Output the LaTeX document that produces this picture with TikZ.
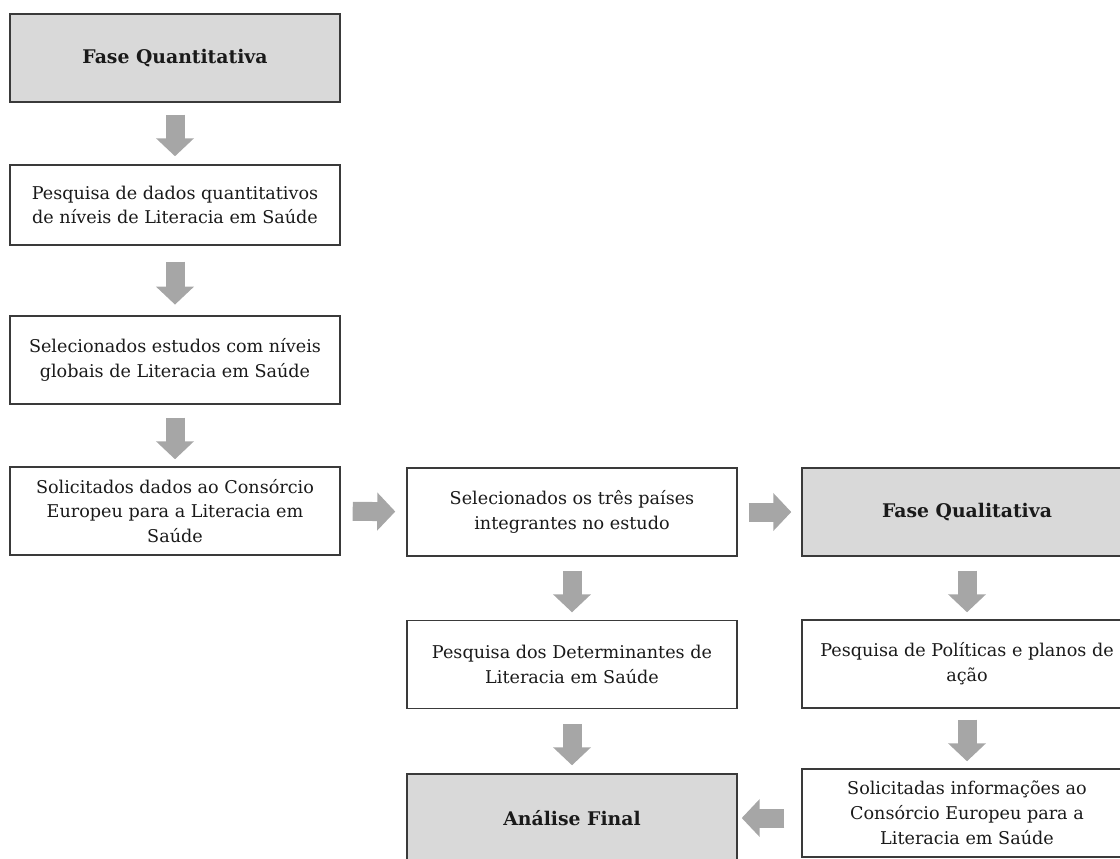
\documentclass[tikz,border=0pt]{standalone}
\usepackage{fontspec}
\setmainfont{DejaVu Serif}
\usetikzlibrary{arrows.meta}
\definecolor{boxline}{HTML}{3A3A3A}
\definecolor{titlefill}{HTML}{D9D9D9}
\definecolor{arrowfill}{HTML}{A6A6A6}
\definecolor{txt}{HTML}{1A1A1A}
\tikzset{
  stepbox/.style={draw=boxline, line width=1.1pt, fill=white, text=txt,
    minimum width=247.5pt, minimum height=66pt, inner sep=0pt,
    align=center, font=\fontsize{13.2}{18.6}\selectfont},
  titlebox/.style={stepbox, fill=titlefill,
    font=\fontsize{14.1}{18.6}\selectfont\bfseries},
  blk/.style={draw=arrowfill, line width=14.25pt,
    -{Triangle[width=27.75pt,length=13.5pt,fill=arrowfill]}},
}
\begin{document}
\begin{tikzpicture}[x=0.75pt,y=-0.75pt]
\useasboundingbox (0,0) rectangle (1120,859);
\clip (0,0) rectangle (1120,859);
\node[titlebox] (b1) at (175,58) {Fase Quantitativa};
\node[stepbox, minimum height=60pt] (b2) at (175,205) {Pesquisa de dados quantitativos\\de níveis de Literacia em Saúde};
\node[stepbox] (b3) at (175,360) {Selecionados estudos com níveis\\globais de Literacia em Saúde};
\node[stepbox] (b4) at (175,511) {Solicitados dados ao Consórcio\\Europeu para a Literacia em\\Saúde};
\node[stepbox] (b5) at (572,512) {Selecionados os três países\\integrantes no estudo};
\node[titlebox] (b6) at (967,512) {Fase Qualitativa};
\node[stepbox] (b7) at (572,664.5) {Pesquisa dos Determinantes de\\Literacia em Saúde};
\node[titlebox] (b8) at (572,818) {Análise Final};
\node[stepbox] (b9) at (967,664) {Pesquisa de Políticas e planos de\\ação};
\node[stepbox] (b10) at (967,813) {Solicitadas informações ao\\Consórcio Europeu para a\\Literacia em Saúde};

\draw[blk, shorten <=9pt, shorten >=6pt] (b1) -- (b2);
\draw[blk, shorten <=12pt, shorten >=8pt] (b2) -- (b3);
\draw[blk, shorten <=9.75pt, shorten >=5.25pt] (b3) -- (b4);
\draw[blk, shorten <=9pt, shorten >=8.25pt] (b4) -- (b5);
\draw[blk, shorten <=8.25pt, shorten >=7.5pt] (b5) -- (b6);
\draw[blk, shorten <=10.5pt, shorten >=5.6pt] (b5) -- (b7);
\draw[blk, shorten <=10.9pt, shorten >=6pt] (b7) -- (b8);
\draw[blk, shorten <=10.5pt, shorten >=5.25pt] (b6) -- (b9);
\draw[blk, shorten <=8.25pt, shorten >=5.25pt] (b9) -- (b10);
\draw[blk, shorten <=12.75pt, shorten >=3pt] (b10.west |- b8.east) -- (b8.east);
\end{tikzpicture}
\end{document}
